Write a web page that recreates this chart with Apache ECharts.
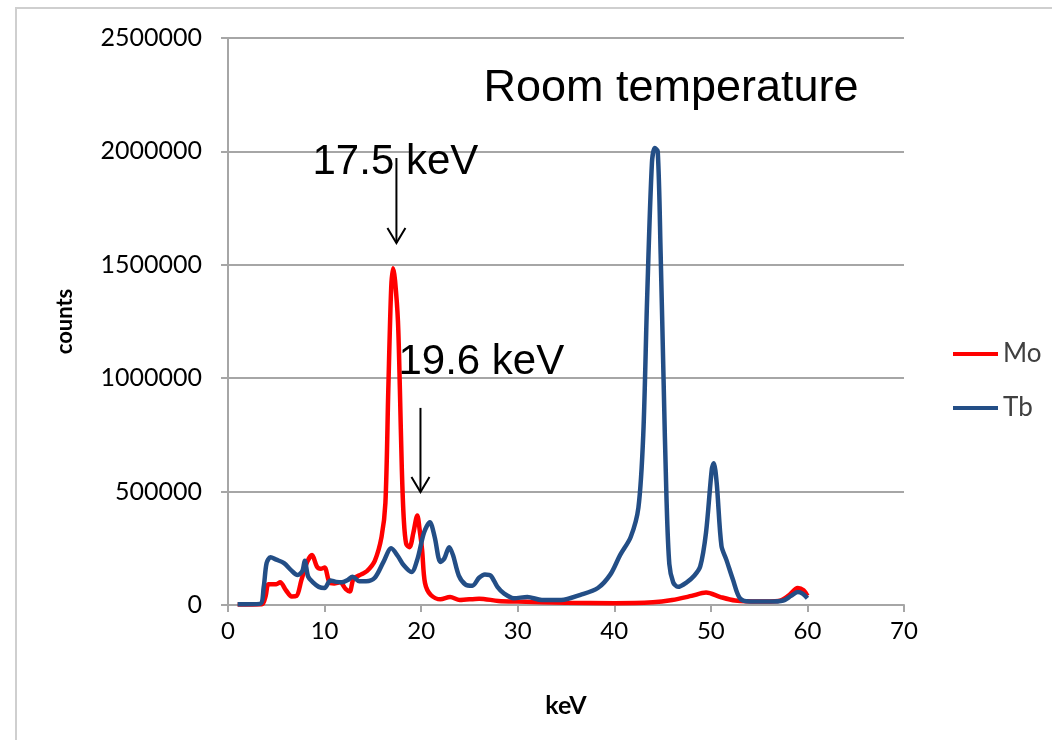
<!DOCTYPE html>
<html><head><meta charset="utf-8">
<script src="https://cdn.jsdelivr.net/npm/echarts@6/dist/echarts.min.js"></script>
<style>html,body{margin:0;padding:0;background:#fff;}#c{width:1052px;height:740px;}</style>
</head><body><div id="c"></div>
<script>
// ---- data ----
const moKeV = [1.0, 3.5, 3.9, 4.2, 5.0, 5.4, 6.0, 6.6, 7.1, 7.6, 8.2, 8.7, 9.2, 9.6, 10.0, 10.5, 11.0, 11.6, 12.2, 12.6, 13.0, 13.8, 14.4, 15.2, 15.9, 16.3, 16.6, 16.9, 17.1, 17.3, 17.6, 17.8, 18.0, 18.2, 18.45, 18.8, 19.2, 19.6, 19.85, 20.1, 20.4, 21.0, 22.0, 23.0, 24.0, 26.0, 28.0, 30.0, 35.0, 40.0, 44.0, 46.0, 48.0, 49.5, 51.0, 52.5, 55.0, 57.0, 58.0, 59.0, 59.6, 60.0];
const moCounts = [2000, 3000, 40000, 92000, 92000, 100000, 65000, 38000, 40000, 110000, 190000, 220000, 170000, 160000, 165000, 100000, 95000, 100000, 70000, 60000, 115000, 135000, 150000, 195000, 300000, 450000, 950000, 1400000, 1485000, 1430000, 1250000, 950000, 600000, 380000, 270000, 255000, 320000, 395000, 330000, 243000, 97000, 44000, 25000, 35000, 22000, 28000, 18000, 15000, 10000, 8000, 12000, 22000, 40000, 55000, 35000, 20000, 15000, 18000, 40000, 75000, 65000, 40000];
const tbKeV = [1.0, 3.3, 3.7, 4.0, 4.4, 5.0, 5.8, 6.5, 7.2, 7.7, 7.95, 8.3, 8.8, 9.4, 10.0, 10.6, 11.2, 11.8, 12.4, 12.9, 13.6, 14.3, 15.2, 16.1, 16.9, 17.6, 18.2, 19.0, 19.6, 20.3, 20.9, 21.4, 22.0, 22.4, 22.9, 23.3, 23.9, 24.6, 25.3, 26.0, 26.6, 27.2, 27.9, 28.6, 29.6, 31.0, 32.5, 34.5, 36.5, 38.3, 39.6, 40.6, 41.7, 42.5, 43.0, 43.4, 43.9, 44.2, 44.5, 44.8, 45.1, 45.4, 45.7, 46.1, 46.6, 47.5, 48.3, 48.9, 49.5, 50.1, 50.3, 50.6, 51.1, 51.6, 52.3, 53.0, 54.0, 56.0, 57.5, 58.3, 59.0, 59.5, 60.0];
const tbCounts = [3000, 5000, 80000, 185000, 210000, 200000, 185000, 155000, 132000, 150000, 195000, 125000, 100000, 80000, 75000, 108000, 102000, 100000, 110000, 125000, 105000, 105000, 120000, 190000, 250000, 215000, 175000, 145000, 200000, 320000, 365000, 300000, 190000, 205000, 255000, 220000, 130000, 90000, 85000, 120000, 135000, 130000, 80000, 50000, 30000, 35000, 22000, 22000, 45000, 75000, 135000, 220000, 300000, 430000, 750000, 1350000, 1950000, 2015000, 2000000, 1550000, 1000000, 480000, 180000, 100000, 80000, 100000, 130000, 170000, 320000, 600000, 625000, 540000, 260000, 200000, 110000, 30000, 15000, 15000, 20000, 40000, 57000, 50000, 30000];
const xTickMax = 70, xTickStep = 10;
const yTickMax = 2500000, yTickStep = 500000;
const seriesNames = ['Mo', 'Tb'];
// annotations in data coordinates
const annoTexts = [
  {text: 'Room temperature', keV: 26.45, counts: 2279000, size: 45},
  {text: '17.5 keV', keV: 8.75, counts: 1953000, size: 42},
  {text: '19.6 keV', keV: 17.65, counts: 1071000, size: 42}
];
const annoArrows = [
  {keV: 17.44, from: 1971000, to: 1596000},
  {keV: 19.93, from: 869000, to: 498000}
];

const pairs = (xs, ys) => xs.map((x, i) => [x, ys[i]]);
const gridColor = '#a6a6a6';
const labelFont = 'Lato, "Open Sans", "Liberation Sans", sans-serif';
const moColor = '#ff0000', tbColor = '#234e86';

const chart = echarts.init(document.getElementById('c'), null, {renderer: 'canvas'});
chart.setOption({
  animation: false,
  backgroundColor: '#fff',
  grid: {left: 228, right: 148, top: 38, bottom: 135, containLabel: false},
  legend: {
    orient: 'vertical', left: 948, top: 336,
    itemWidth: 45, itemHeight: 4, itemGap: 28, icon: 'rect',
    textStyle: {fontFamily: labelFont, fontSize: 26, color: '#404040'},
    data: seriesNames
  },
  xAxis: {
    type: 'value', min: 0, max: xTickMax, interval: xTickStep,
    name: 'keV', nameLocation: 'middle', nameGap: 88,
    nameTextStyle: {fontFamily: labelFont, fontWeight: 'bold', fontSize: 25, color: '#000'},
    axisLine: {show: true, lineStyle: {color: gridColor, width: 2}},
    axisTick: {show: true, length: 7, lineStyle: {color: gridColor, width: 2}},
    axisLabel: {fontFamily: labelFont, fontSize: 24, color: '#000', margin: 14},
    splitLine: {show: false}
  },
  yAxis: {
    type: 'value', min: 0, max: yTickMax, interval: yTickStep,
    name: 'counts', nameLocation: 'middle', nameGap: 152, nameRotate: 90,
    nameTextStyle: {fontFamily: labelFont, fontWeight: 'bold', fontSize: 22, color: '#000'},
    axisLine: {show: true, lineStyle: {color: gridColor, width: 2}},
    axisTick: {show: true, length: 7, lineStyle: {color: gridColor, width: 2}},
    axisLabel: {fontFamily: labelFont, fontSize: 25, color: '#000', margin: 26, formatter: v => String(v)},
    splitLine: {show: true, lineStyle: {color: gridColor, width: 2}}
  },
  series: [
    {name: seriesNames[0], type: 'line', data: pairs(moKeV, moCounts), smooth: 0.3,
     symbol: 'none', lineStyle: {color: moColor, width: 4.5}, itemStyle: {color: moColor}},
    {name: seriesNames[1], type: 'line', data: pairs(tbKeV, tbCounts), smooth: 0.3,
     symbol: 'none', lineStyle: {color: tbColor, width: 4.5}, itemStyle: {color: tbColor}}
  ]
});

const g = [{
  type: 'rect', z: -1, silent: true,
  shape: {x: 16, y: 8, width: 1100, height: 800},
  style: {fill: 'none', stroke: '#cfcfcf', lineWidth: 2}
}];
annoTexts.forEach(a => {
  const p = chart.convertToPixel({gridIndex: 0}, [a.keV, a.counts]);
  g.push({type: 'text', z: 100, style: {text: a.text, x: p[0], y: p[1], textVerticalAlign: 'middle', verticalAlign: 'middle',
    font: a.size + 'px "Liberation Sans", Arial, sans-serif', fill: '#000'}});
});
annoArrows.forEach(a => {
  const p1 = chart.convertToPixel({gridIndex: 0}, [a.keV, a.from]);
  const p2 = chart.convertToPixel({gridIndex: 0}, [a.keV, a.to]);
  g.push({type: 'line', z: 100, shape: {x1: p1[0], y1: p1[1], x2: p2[0], y2: p2[1]}, style: {stroke: '#000', lineWidth: 2}});
  g.push({type: 'polyline', z: 100, shape: {points: [[p2[0] - 9, p2[1] - 15], [p2[0], p2[1]], [p2[0] + 9, p2[1] - 15]]},
    style: {stroke: '#000', lineWidth: 2, fill: 'none'}});
});
chart.setOption({graphic: g});
</script></body></html>
